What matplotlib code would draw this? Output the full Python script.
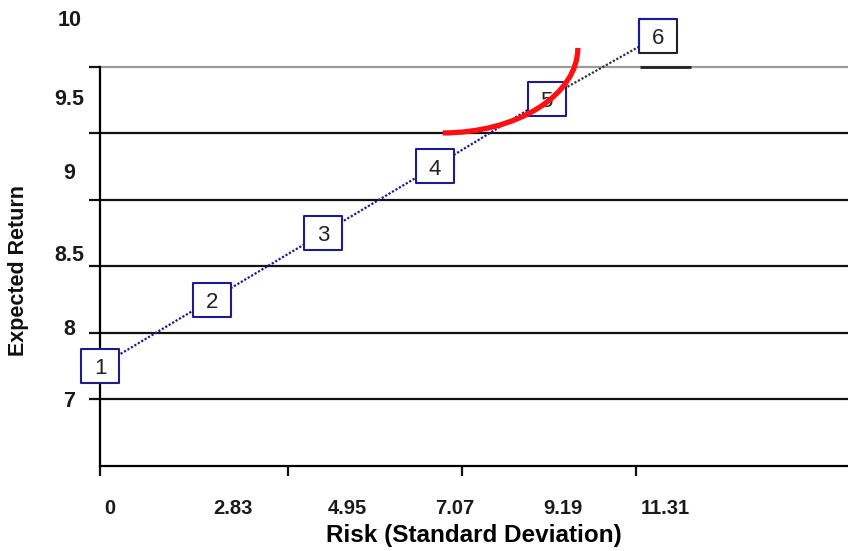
import matplotlib
matplotlib.use("Agg")
import matplotlib.pyplot as plt
from matplotlib.patches import Arc
from matplotlib.path import Path

plt.rcParams["font.family"] = ["Liberation Sans", "DejaVu Sans"]

# portfolios along the efficient line
portfolio_ids = ["1", "2", "3", "4", "5", "6"]
risk_labels = ["0", "2.83", "4.95", "7.07", "9.19", "11.31"]
expected_return = [7.25, 7.75, 8.25, 8.75, 9.26, 9.73]

# value axis: grid levels and the printed labels
grid_levels = [7.0, 7.5, 8.0, 8.5, 9.0, 9.5]
ret_labels = ["10", "9.5", "9", "8.5", "8", "7"]
ret_label_pos = [9.865, 9.271, 8.716, 8.10, 7.544, 7.0]

# category axis tick marks and label offsets
xtick_marks = [0, 1.685, 3.245, 4.80]
xlabel_shift = [0.09, 0.19, 0.22, 0.18, 0.15, 0.06]

# indifference curve (quarter ellipse) drawn over the line
curve_center = (3.07, 9.64)
curve_width = 2.42
curve_height = 1.277

navy = "#1c1c8e"

fig = plt.figure(figsize=(8.48, 5.51), dpi=100)
ax = fig.add_axes([100 / 848, 85 / 551, 748 / 848, 466 / 551])
ax.set_xlim(0, 6.70)
ax.set_ylim(6.5, 10.0)

for s in ("top", "right"):
    ax.spines[s].set_visible(False)
ax.spines["left"].set_bounds(6.5, 9.5)
ax.spines["left"].set_linewidth(1.6)
ax.spines["bottom"].set_linewidth(1.6)

# horizontal grid; top line is lighter
for lvl in grid_levels:
    col = "#9a9a9a" if lvl == grid_levels[-1] else "#111111"
    ax.axhline(lvl, color=col, linewidth=1.6, zorder=1)

ax.yaxis.remove_overlapping_locs = False
ax.set_yticks(grid_levels)
ax.set_yticklabels([])
ax.tick_params(axis="y", which="major", direction="out", length=8, width=1.6, color="#111111")
ax.set_yticks(ret_label_pos, minor=True)
ax.set_yticklabels(ret_labels, minor=True, fontsize=15.5, fontweight="bold",
                   color="#1a1a1a", ha="center")
ax.tick_params(axis="y", which="minor", length=0, pad=22)

xs = list(range(len(risk_labels)))
ax.set_xticks(xtick_marks)
ax.set_xticklabels([])
ax.tick_params(axis="x", which="major", direction="out", length=7, width=1.6, color="#111111")
ax.set_xticks([x + d for x, d in zip(xs, xlabel_shift)], minor=True)
ax.set_xticklabels(risk_labels, minor=True, fontsize=14.5, fontweight="bold", color="#1a1a1a")
ax.tick_params(axis="x", which="minor", length=0, pad=24)

ax.set_xlabel("Risk (Standard Deviation)", fontsize=17.5, fontweight="bold")
ax.xaxis.set_label_coords(0.50, -0.125)
fig.text(19 / 848, 1 - 271 / 551, "Expected Return", rotation=90, fontsize=15.5,
         fontweight="bold", ha="center", va="center", color="#111111")

# dotted connecting line
ax.plot(xs[:5], expected_return[:5], color=navy, linewidth=1.6,
        linestyle=(0, (1.0, 0.8)), zorder=3, clip_on=False)
ax.plot(xs[4:], expected_return[4:], color="#333333", linewidth=1.6,
        linestyle=(0, (1.0, 0.8)), zorder=3, clip_on=False)

# rectangular boxes around each portfolio number
box = Path([(-1, -0.85), (1, -0.85), (1, 0.85), (-1, 0.85), (-1, -0.85)],
           [Path.MOVETO, Path.LINETO, Path.LINETO, Path.LINETO, Path.CLOSEPOLY])
ax.plot(xs[:5], expected_return[:5], linestyle="none", marker=box, markersize=28,
        markerfacecolor="white", markeredgecolor=navy, markeredgewidth=1.5,
        zorder=4, clip_on=False)
ax.plot(xs[5], expected_return[5], linestyle="none", marker=box, markersize=28,
        markerfacecolor="white", markeredgecolor="#222222", markeredgewidth=1.5,
        zorder=4, clip_on=False)
corner = Path([(-1, -0.85), (-1, 0.85), (1, 0.85)])
ax.plot(xs[5], expected_return[5], linestyle="none", marker=corner, markersize=28,
        fillstyle="none", markeredgecolor=navy, markeredgewidth=1.5, zorder=5, clip_on=False)
ax.hlines(grid_levels[-1], xs[5] - 0.16, xs[5] + 0.29, color="#222222", linewidth=2, zorder=2)

for x, y, t in zip(xs, expected_return, portfolio_ids):
    ax.text(x, y - 0.02, t, ha="center", va="center", fontsize=16, color="#222222",
            zorder=6, clip_on=False)

ax.add_patch(Arc(curve_center, curve_width, curve_height, theta1=270, theta2=360,
                 color="#ff1010", linewidth=3.8, zorder=7))

fig.savefig("out.png", dpi=100)
